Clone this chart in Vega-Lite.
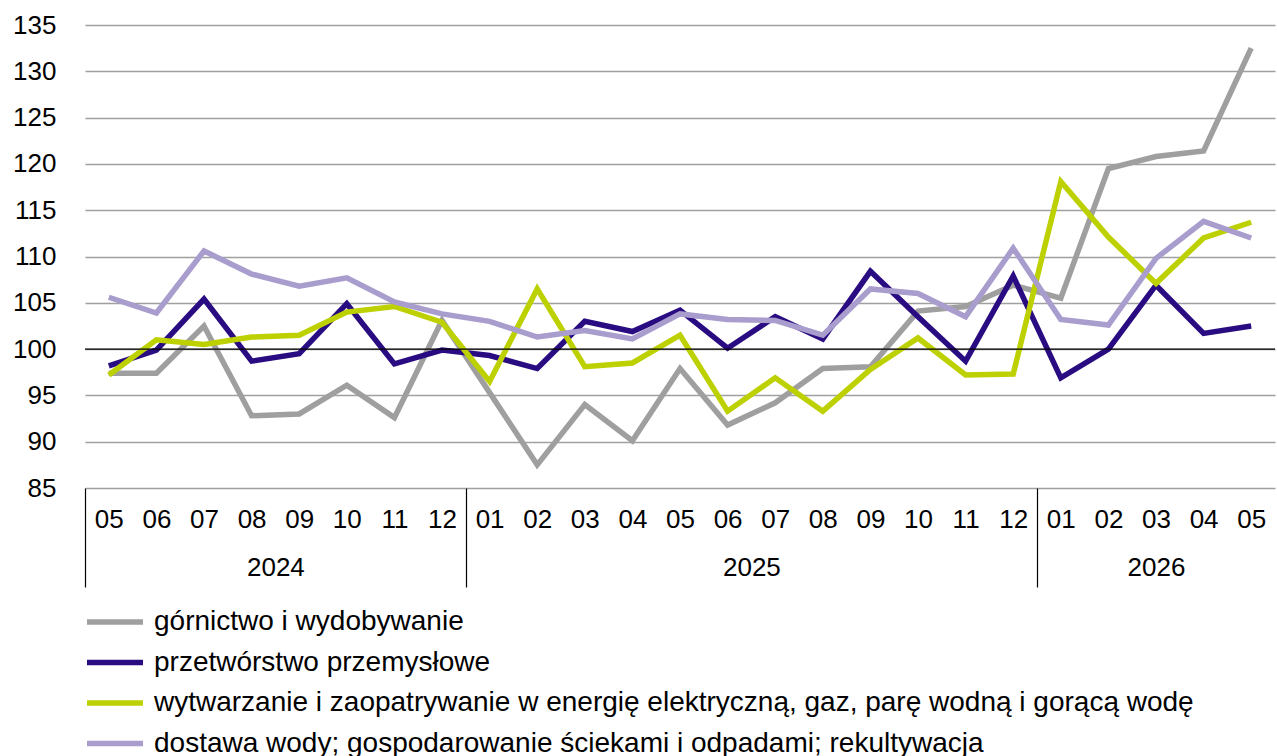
{
  "$schema": "https://vega.github.io/schema/vega-lite/v6.json",
  "width": 1190,
  "height": 463,
  "autosize": {"type": "none"},
  "padding": {"left": 85, "top": 25, "right": 2, "bottom": 268},
  "config": {"font": "Liberation Sans", "view": {"stroke": null}},
  "datasets": {
    "series": [
      {"m": "2024-05", "s": "górnictwo i wydobywanie", "v": 97.4},
      {"m": "2024-06", "s": "górnictwo i wydobywanie", "v": 97.4},
      {"m": "2024-07", "s": "górnictwo i wydobywanie", "v": 102.5},
      {"m": "2024-08", "s": "górnictwo i wydobywanie", "v": 92.8},
      {"m": "2024-09", "s": "górnictwo i wydobywanie", "v": 93.0},
      {"m": "2024-10", "s": "górnictwo i wydobywanie", "v": 96.1},
      {"m": "2024-11", "s": "górnictwo i wydobywanie", "v": 92.6},
      {"m": "2024-12", "s": "górnictwo i wydobywanie", "v": 103.1},
      {"m": "2025-01", "s": "górnictwo i wydobywanie", "v": 95.3},
      {"m": "2025-02", "s": "górnictwo i wydobywanie", "v": 87.5},
      {"m": "2025-03", "s": "górnictwo i wydobywanie", "v": 94.0},
      {"m": "2025-04", "s": "górnictwo i wydobywanie", "v": 90.1},
      {"m": "2025-05", "s": "górnictwo i wydobywanie", "v": 97.9},
      {"m": "2025-06", "s": "górnictwo i wydobywanie", "v": 91.8},
      {"m": "2025-07", "s": "górnictwo i wydobywanie", "v": 94.2},
      {"m": "2025-08", "s": "górnictwo i wydobywanie", "v": 97.9},
      {"m": "2025-09", "s": "górnictwo i wydobywanie", "v": 98.1},
      {"m": "2025-10", "s": "górnictwo i wydobywanie", "v": 104.1},
      {"m": "2025-11", "s": "górnictwo i wydobywanie", "v": 104.6},
      {"m": "2025-12", "s": "górnictwo i wydobywanie", "v": 106.9},
      {"m": "2026-01", "s": "górnictwo i wydobywanie", "v": 105.5},
      {"m": "2026-02", "s": "górnictwo i wydobywanie", "v": 119.5},
      {"m": "2026-03", "s": "górnictwo i wydobywanie", "v": 120.8},
      {"m": "2026-04", "s": "górnictwo i wydobywanie", "v": 121.4},
      {"m": "2026-05", "s": "górnictwo i wydobywanie", "v": 132.5},

      {"m": "2024-05", "s": "przetwórstwo przemysłowe", "v": 98.2},
      {"m": "2024-06", "s": "przetwórstwo przemysłowe", "v": 99.9},
      {"m": "2024-07", "s": "przetwórstwo przemysłowe", "v": 105.4},
      {"m": "2024-08", "s": "przetwórstwo przemysłowe", "v": 98.7},
      {"m": "2024-09", "s": "przetwórstwo przemysłowe", "v": 99.5},
      {"m": "2024-10", "s": "przetwórstwo przemysłowe", "v": 104.9},
      {"m": "2024-11", "s": "przetwórstwo przemysłowe", "v": 98.4},
      {"m": "2024-12", "s": "przetwórstwo przemysłowe", "v": 99.9},
      {"m": "2025-01", "s": "przetwórstwo przemysłowe", "v": 99.3},
      {"m": "2025-02", "s": "przetwórstwo przemysłowe", "v": 97.9},
      {"m": "2025-03", "s": "przetwórstwo przemysłowe", "v": 103.0},
      {"m": "2025-04", "s": "przetwórstwo przemysłowe", "v": 101.9},
      {"m": "2025-05", "s": "przetwórstwo przemysłowe", "v": 104.2},
      {"m": "2025-06", "s": "przetwórstwo przemysłowe", "v": 100.1},
      {"m": "2025-07", "s": "przetwórstwo przemysłowe", "v": 103.5},
      {"m": "2025-08", "s": "przetwórstwo przemysłowe", "v": 101.1},
      {"m": "2025-09", "s": "przetwórstwo przemysłowe", "v": 108.4},
      {"m": "2025-10", "s": "przetwórstwo przemysłowe", "v": 103.5},
      {"m": "2025-11", "s": "przetwórstwo przemysłowe", "v": 98.7},
      {"m": "2025-12", "s": "przetwórstwo przemysłowe", "v": 107.9},
      {"m": "2026-01", "s": "przetwórstwo przemysłowe", "v": 96.9},
      {"m": "2026-02", "s": "przetwórstwo przemysłowe", "v": 100.0},
      {"m": "2026-03", "s": "przetwórstwo przemysłowe", "v": 106.9},
      {"m": "2026-04", "s": "przetwórstwo przemysłowe", "v": 101.7},
      {"m": "2026-05", "s": "przetwórstwo przemysłowe", "v": 102.5},

      {"m": "2024-05", "s": "wytwarzanie i zaopatrywanie w energię elektryczną, gaz, parę wodną i gorącą wodę", "v": 97.2},
      {"m": "2024-06", "s": "wytwarzanie i zaopatrywanie w energię elektryczną, gaz, parę wodną i gorącą wodę", "v": 101.0},
      {"m": "2024-07", "s": "wytwarzanie i zaopatrywanie w energię elektryczną, gaz, parę wodną i gorącą wodę", "v": 100.5},
      {"m": "2024-08", "s": "wytwarzanie i zaopatrywanie w energię elektryczną, gaz, parę wodną i gorącą wodę", "v": 101.3},
      {"m": "2024-09", "s": "wytwarzanie i zaopatrywanie w energię elektryczną, gaz, parę wodną i gorącą wodę", "v": 101.5},
      {"m": "2024-10", "s": "wytwarzanie i zaopatrywanie w energię elektryczną, gaz, parę wodną i gorącą wodę", "v": 104.0},
      {"m": "2024-11", "s": "wytwarzanie i zaopatrywanie w energię elektryczną, gaz, parę wodną i gorącą wodę", "v": 104.6},
      {"m": "2024-12", "s": "wytwarzanie i zaopatrywanie w energię elektryczną, gaz, parę wodną i gorącą wodę", "v": 102.9},
      {"m": "2025-01", "s": "wytwarzanie i zaopatrywanie w energię elektryczną, gaz, parę wodną i gorącą wodę", "v": 96.5},
      {"m": "2025-02", "s": "wytwarzanie i zaopatrywanie w energię elektryczną, gaz, parę wodną i gorącą wodę", "v": 106.5},
      {"m": "2025-03", "s": "wytwarzanie i zaopatrywanie w energię elektryczną, gaz, parę wodną i gorącą wodę", "v": 98.1},
      {"m": "2025-04", "s": "wytwarzanie i zaopatrywanie w energię elektryczną, gaz, parę wodną i gorącą wodę", "v": 98.5},
      {"m": "2025-05", "s": "wytwarzanie i zaopatrywanie w energię elektryczną, gaz, parę wodną i gorącą wodę", "v": 101.5},
      {"m": "2025-06", "s": "wytwarzanie i zaopatrywanie w energię elektryczną, gaz, parę wodną i gorącą wodę", "v": 93.3},
      {"m": "2025-07", "s": "wytwarzanie i zaopatrywanie w energię elektryczną, gaz, parę wodną i gorącą wodę", "v": 96.9},
      {"m": "2025-08", "s": "wytwarzanie i zaopatrywanie w energię elektryczną, gaz, parę wodną i gorącą wodę", "v": 93.3},
      {"m": "2025-09", "s": "wytwarzanie i zaopatrywanie w energię elektryczną, gaz, parę wodną i gorącą wodę", "v": 97.8},
      {"m": "2025-10", "s": "wytwarzanie i zaopatrywanie w energię elektryczną, gaz, parę wodną i gorącą wodę", "v": 101.2},
      {"m": "2025-11", "s": "wytwarzanie i zaopatrywanie w energię elektryczną, gaz, parę wodną i gorącą wodę", "v": 97.2},
      {"m": "2025-12", "s": "wytwarzanie i zaopatrywanie w energię elektryczną, gaz, parę wodną i gorącą wodę", "v": 97.3},
      {"m": "2026-01", "s": "wytwarzanie i zaopatrywanie w energię elektryczną, gaz, parę wodną i gorącą wodę", "v": 118.1},
      {"m": "2026-02", "s": "wytwarzanie i zaopatrywanie w energię elektryczną, gaz, parę wodną i gorącą wodę", "v": 112.1},
      {"m": "2026-03", "s": "wytwarzanie i zaopatrywanie w energię elektryczną, gaz, parę wodną i gorącą wodę", "v": 107.1},
      {"m": "2026-04", "s": "wytwarzanie i zaopatrywanie w energię elektryczną, gaz, parę wodną i gorącą wodę", "v": 112.0},
      {"m": "2026-05", "s": "wytwarzanie i zaopatrywanie w energię elektryczną, gaz, parę wodną i gorącą wodę", "v": 113.7},

      {"m": "2024-05", "s": "dostawa wody; gospodarowanie ściekami i odpadami; rekultywacja", "v": 105.6},
      {"m": "2024-06", "s": "dostawa wody; gospodarowanie ściekami i odpadami; rekultywacja", "v": 103.9},
      {"m": "2024-07", "s": "dostawa wody; gospodarowanie ściekami i odpadami; rekultywacja", "v": 110.6},
      {"m": "2024-08", "s": "dostawa wody; gospodarowanie ściekami i odpadami; rekultywacja", "v": 108.1},
      {"m": "2024-09", "s": "dostawa wody; gospodarowanie ściekami i odpadami; rekultywacja", "v": 106.8},
      {"m": "2024-10", "s": "dostawa wody; gospodarowanie ściekami i odpadami; rekultywacja", "v": 107.7},
      {"m": "2024-11", "s": "dostawa wody; gospodarowanie ściekami i odpadami; rekultywacja", "v": 105.1},
      {"m": "2024-12", "s": "dostawa wody; gospodarowanie ściekami i odpadami; rekultywacja", "v": 103.8},
      {"m": "2025-01", "s": "dostawa wody; gospodarowanie ściekami i odpadami; rekultywacja", "v": 103.0},
      {"m": "2025-02", "s": "dostawa wody; gospodarowanie ściekami i odpadami; rekultywacja", "v": 101.3},
      {"m": "2025-03", "s": "dostawa wody; gospodarowanie ściekami i odpadami; rekultywacja", "v": 102.0},
      {"m": "2025-04", "s": "dostawa wody; gospodarowanie ściekami i odpadami; rekultywacja", "v": 101.1},
      {"m": "2025-05", "s": "dostawa wody; gospodarowanie ściekami i odpadami; rekultywacja", "v": 103.8},
      {"m": "2025-06", "s": "dostawa wody; gospodarowanie ściekami i odpadami; rekultywacja", "v": 103.2},
      {"m": "2025-07", "s": "dostawa wody; gospodarowanie ściekami i odpadami; rekultywacja", "v": 103.1},
      {"m": "2025-08", "s": "dostawa wody; gospodarowanie ściekami i odpadami; rekultywacja", "v": 101.5},
      {"m": "2025-09", "s": "dostawa wody; gospodarowanie ściekami i odpadami; rekultywacja", "v": 106.5},
      {"m": "2025-10", "s": "dostawa wody; gospodarowanie ściekami i odpadami; rekultywacja", "v": 106.0},
      {"m": "2025-11", "s": "dostawa wody; gospodarowanie ściekami i odpadami; rekultywacja", "v": 103.5},
      {"m": "2025-12", "s": "dostawa wody; gospodarowanie ściekami i odpadami; rekultywacja", "v": 110.9},
      {"m": "2026-01", "s": "dostawa wody; gospodarowanie ściekami i odpadami; rekultywacja", "v": 103.2},
      {"m": "2026-02", "s": "dostawa wody; gospodarowanie ściekami i odpadami; rekultywacja", "v": 102.6},
      {"m": "2026-03", "s": "dostawa wody; gospodarowanie ściekami i odpadami; rekultywacja", "v": 109.8},
      {"m": "2026-04", "s": "dostawa wody; gospodarowanie ściekami i odpadami; rekultywacja", "v": 113.8},
      {"m": "2026-05", "s": "dostawa wody; gospodarowanie ściekami i odpadami; rekultywacja", "v": 112.0}
    ],
    "years": [
      {"a": 0, "b": 25, "v": 100}
    ]
  },
  "layer": [
    {
      "data": {"name": "series"},
      "mark": {"type": "line", "strokeWidth": 5.5},
      "encoding": {
        "x": {
          "field": "m",
          "type": "ordinal",
          "sort": null,
          "scale": {"type": "point", "padding": 0.5},
          "axis": {
            "orient": "bottom",
            "title": null,
            "domain": false,
            "grid": false,
            "labelExpr": "substring(datum.value, 5)",
            "labelAngle": 0,
            "labelFontSize": 26,
            "labelColor": "#000000",
            "labelOverlap": false,
            "labelBound": false,
            "labelPadding": -81,
            "tickSize": 99,
            "tickWidth": 1.2,
            "tickOffset": -23.8,
            "labelOffset": 23.8,
            "tickColor": {
              "condition": {"test": "indexof(['2024-05','2025-01','2026-01'], datum.value) >= 0", "value": "#000000"},
              "value": "transparent"
            }
          }
        },
        "y": {
          "field": "v",
          "type": "quantitative",
          "scale": {"domain": [85, 135], "nice": false, "zero": false},
          "axis": {
            "title": null,
            "values": [85, 90, 95, 100, 105, 110, 115, 120, 125, 130, 135],
            "domain": false,
            "ticks": false,
            "tickSize": 0,
            "labelPadding": 29,
            "labelFontSize": 26,
            "labelColor": "#000000",
            "grid": true,
            "gridColor": "#a0a0a0",
            "gridWidth": 1.4
          }
        },
        "color": {
          "field": "s",
          "type": "nominal",
          "scale": {
            "domain": [
              "górnictwo i wydobywanie",
              "przetwórstwo przemysłowe",
              "wytwarzanie i zaopatrywanie w energię elektryczną, gaz, parę wodną i gorącą wodę",
              "dostawa wody; gospodarowanie ściekami i odpadami; rekultywacja"
            ],
            "range": ["#9f9f9f", "#2a0c82", "#bdd000", "#a99dce"]
          },
          "legend": {
            "orient": "none",
            "legendX": -1,
            "legendY": 578,
            "direction": "vertical",
            "title": null,
            "padding": 0,
            "symbolType": "stroke",
            "symbolSize": 3136,
            "symbolStrokeWidth": 5.5,
            "labelFontSize": 28,
            "labelColor": "#000000",
            "labelLimit": 0,
            "labelOffset": 8,
            "clipHeight": 38,
            "rowPadding": 2.5
          }
        }
      }
    },
    {
      "data": {"name": "years"},
      "mark": {"type": "rule", "color": "#000000", "strokeWidth": 1.4},
      "encoding": {
        "x": {
          "field": "a",
          "type": "quantitative",
          "scale": {"domain": [0, 25], "nice": false, "zero": false},
          "axis": {
            "orient": "bottom",
            "title": null,
            "values": [4, 14, 22.5],
            "labelExpr": "datum.value == 4 ? '2024' : datum.value == 14 ? '2025' : '2026'",
            "domain": false,
            "ticks": false,
            "tickSize": 0,
            "grid": false,
            "labelPadding": 66,
            "labelFontSize": 26,
            "labelColor": "#000000",
            "labelBound": false,
            "labelFlush": false
          }
        },
        "x2": {"field": "b"},
        "y": {"field": "v", "type": "quantitative"}
      }
    }
  ],
  "resolve": {"scale": {"x": "independent"}, "axis": {"x": "independent"}}
}
